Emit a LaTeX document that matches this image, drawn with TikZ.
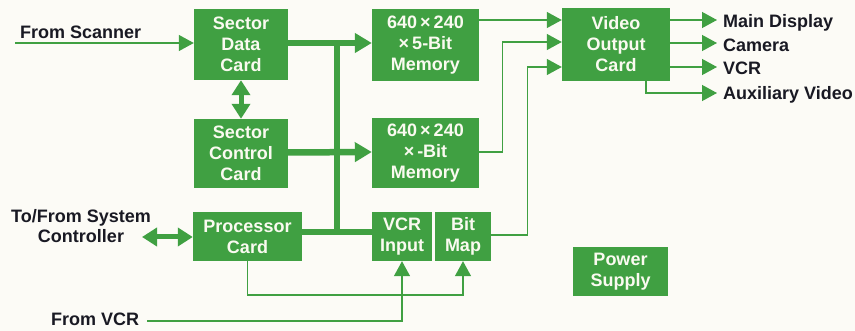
\documentclass[tikz,border=0pt]{standalone}
\usepackage{fontspec}
\setmainfont{Liberation Sans}
\usetikzlibrary{arrows.meta,calc}
\definecolor{hpgreen}{RGB}{64,160,66}
\definecolor{paper}{RGB}{252,251,246}
\definecolor{ink}{RGB}{25,25,35}
\definecolor{boxtext}{RGB}{250,250,240}
\begin{document}
\begin{tikzpicture}[x=1pt,y=-1pt,
  card/.style={fill=hpgreen, draw=none, text=boxtext, font=\fontsize{18}{21}\selectfont\bfseries, align=center, inner sep=0pt},
  lbl/.style={text=ink, font=\fontsize{18}{20}\selectfont\bfseries, inner sep=0pt},
  wire/.style={draw=hpgreen, line width=1.3pt},
  warr/.style={wire, -{Triangle[length=15pt,width=16pt]}},
  bus/.style={draw=hpgreen, line width=6.5pt},
  barr/.style={bus, -{Triangle[length=17pt,width=19pt]}},
  dbarr/.style={draw=hpgreen, line width=5pt, {Triangle[length=15pt,width=18pt]}-{Triangle[length=15pt,width=18pt]}},
]
\fill[paper] (0,0) rectangle (855,331);
\useasboundingbox (0,0) rectangle (855,331);

% cards
\node[card, minimum width=94pt, minimum height=71pt] (sdc) at (241,44.5) {Sector\\Data\\Card};
\node[card, minimum width=94pt, minimum height=69pt] (scc) at (241,153.5) {Sector\\Control\\Card};
\node[card, minimum width=107pt, minimum height=72pt] (mem1) at (425.5,45) {640\,×\,240\\×\,5-Bit\\Memory};
\node[card, minimum width=107pt, minimum height=70pt] (mem2) at (425.5,153) {640\,×\,240\\×\,-Bit\\Memory};
\node[card, minimum width=108pt, minimum height=73pt] (video) at (616,44.5) {Video\\Output\\Card};
\node[card, minimum width=109pt, minimum height=49pt] (proc) at (247.5,236.5) {Processor\\Card};
\node[card, minimum width=60pt, minimum height=49pt] (vcrin) at (402,236.5) {VCR\\Input};
\node[card, minimum width=56pt, minimum height=49pt] (bitmap) at (463,236.5) {Bit\\Map};
\node[card, minimum width=95pt, minimum height=49pt] (power) at (620.5,271.5) {Power\\Supply};

% labels
\node[lbl, anchor=base west] (lscan) at (20,39) {From Scanner};
\node[lbl, align=center] (lsys) at (81,226) {To/From System\\Controller};
\node[lbl, anchor=base west] (lvcr) at (51,326) {From VCR};
\node[lbl, anchor=base west] (lmain) at (723,28) {Main Display};
\node[lbl, anchor=base west] (lcam) at (723,51.5) {Camera};
\node[lbl, anchor=base west] (lvcro) at (723,75) {VCR};
\node[lbl, anchor=base west] (laux) at (723,100) {Auxiliary Video};

% coordinates
\coordinate (scanStart) at (15,43);
\coordinate (sysEnd) at (142,237);
\coordinate (vcrStart) at (147,321);
\coordinate (pbRoute) at (463,295);
\coordinate (busTop) at (337,43);
\coordinate (busBot) at (337,232);
\coordinate (oMain) at (717,20);
\coordinate (oCam) at (717,43);
\coordinate (oVcr) at (717,67);
\coordinate (oAux) at (717,93);

% thick bus
\draw[bus] (busTop) -- (busBot);
\draw[barr] (sdc.east |- busTop) -- (mem1.west |- busTop);
\draw[barr] ([yshift=1pt]scc.east) -- ([yshift=1pt]mem2.west);
\draw[bus] (proc.east |- busBot) -- (vcrin.west |- busBot);
\draw[dbarr] (sdc.south) -- (scc.north);
\draw[dbarr] (sysEnd) -- (proc.west |- sysEnd);

% thin wires
\draw[warr] (scanStart) -- (scanStart -| sdc.west);
\draw[warr] ([yshift=25pt]mem1.east) coordinate (m1o) -- (m1o -| video.west);
\draw[warr] ([yshift=1pt]mem2.east) -- ++(23pt,0) |- ([yshift=2.5pt]video.west);
\draw[warr] ([yshift=1.5pt]bitmap.east) -- ++(36pt,0) |- ([yshift=-22.5pt]video.west);
\draw[warr] (video.east |- oMain) -- (oMain);
\draw[warr] (video.east |- oCam) -- (oCam);
\draw[warr] (video.east |- oVcr) -- (oVcr);
\draw[warr] ([xshift=30pt]video.south) |- (oAux);
\draw[warr] (vcrStart) -| (vcrin.south);
\draw[warr] (proc.south) |- (pbRoute) -- (bitmap.south);
\end{tikzpicture}
\end{document}
